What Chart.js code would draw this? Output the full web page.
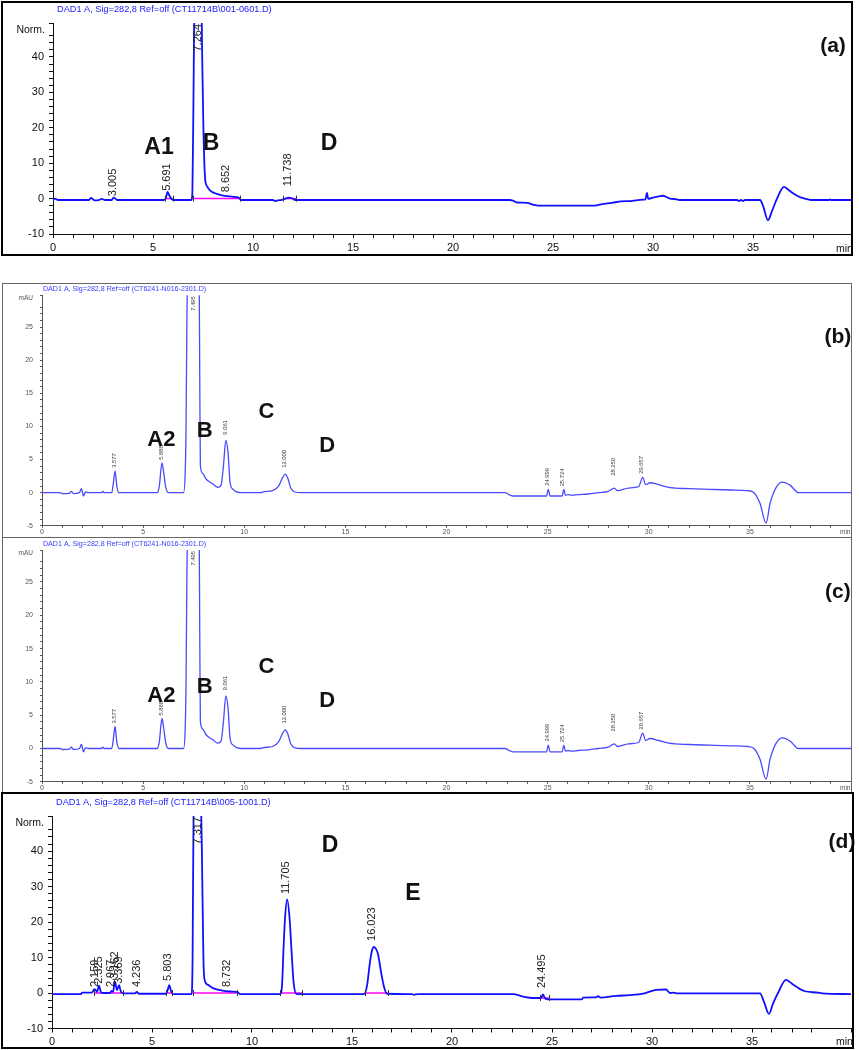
<!DOCTYPE html>
<html>
<head>
<meta charset="utf-8">
<script src="https://cdn.jsdelivr.net/npm/chart.js@4/dist/chart.umd.min.js"></script>
<style>
  body { margin: 0; background: #fff; }
  #page { position: relative; width: 859px; height: 1050px; overflow: hidden; }
  canvas { position: absolute; left: 0; }
  .frame { position: absolute; box-sizing: border-box; pointer-events: none; }
</style>
</head>
<body>
<div id="page">
  <canvas id="chartA" width="859" height="258" style="top:0px"></canvas>
  <canvas id="chartB" width="859" height="253" style="top:284px"></canvas>
  <canvas id="chartC" width="859" height="256" style="top:537px"></canvas>
  <canvas id="chartD" width="859" height="257" style="top:793px"></canvas>
  <div class="frame" style="left:1px;top:1px;width:852px;height:255px;border:2px solid #000"></div>
  <div class="frame" style="left:2px;top:283px;width:850px;height:511px;border:1px solid #666"></div>
  <div class="frame" style="left:2px;top:537px;width:850px;height:1px;background:#666"></div>
  <div class="frame" style="left:1px;top:792px;width:853px;height:257px;border:2px solid #000"></div>
</div>
<script>
// trace (a): [min, Norm.]
const traceA = [[0,-0.4],[0.1,0],[0.25,-0.4],[1.8,-0.4],[1.9,0.2],[2.0,-0.2],[2.1,-0.5],[2.3,-0.4],[2.45,-0.1],[2.6,-0.4],
  [2.95,-0.4],[3.02,0.3],[3.12,0],[3.2,-0.4],[5.55,-0.4],[5.65,0.3],[5.73,1.9],[5.82,0.8],[5.95,-0.2],[6.05,-0.4],
  [6.92,-0.4],[6.97,2],[7.02,26],[7.07,52],[7.26,56],[7.43,52],[7.46,40],[7.52,20],[7.6,6],[7.7,3.5],[7.85,2.3],
  [8.1,1.5],[8.4,1.0],[9.0,0.5],[9.3,0.2],[9.4,-0.4],[11.0,-0.4],[11.1,-0.7],[11.25,-0.5],[11.4,-0.4],[11.6,-0.1],
  [11.77,0.3],[11.95,0.1],[12.1,-0.4],[22.85,-0.4],[23.0,-0.6],[23.2,-1.1],[23.7,-1.2],[24.0,-1.7],[24.25,-2.0],
  [27.1,-2.0],[27.4,-1.6],[27.95,-1.2],[28.4,-0.8],[28.85,-0.7],[29.5,-0.3],[29.62,-0.2],[29.7,1.6],[29.76,-0.1],
  [30.0,0.3],[30.35,0.7],[30.5,0.8],[30.85,0.0],[31.2,-0.2],[31.3,-0.4],[34.2,-0.4],[34.3,-0.7],[34.4,-0.4],
  [34.5,-0.7],[34.6,-0.4],[35.35,-0.4],[35.5,-2.0],[35.75,-6.1],[35.95,-3.5],[36.2,0.0],[36.55,3.3],[36.75,2.6],
  [37.0,1.5],[37.35,0.4],[37.75,-0.2],[37.9,-0.4],[38.8,-0.4],[38.85,-0.2],[38.9,-0.4],[39.9,-0.4]];

// trace (b) and (c): [min, mAU]
const traceB = [[0,0],[0.9,0],[1.0,-0.15],[1.35,-0.1],[1.45,0.2],[1.55,-0.15],[1.85,0],[1.95,0.6],[2.05,-0.5],[2.15,0.1],
  [2.3,0],[2.95,0],[3.0,0.2],[3.08,0],[3.45,0],[3.53,1.5],[3.61,3.3],[3.7,1.0],[3.8,0],[5.7,0],[5.8,1.0],[5.93,4.5],
  [6.02,3.0],[6.12,0.8],[6.25,0],[7.0,0],[7.08,3],[7.12,9.3],[7.16,24.5],[7.2,33],[7.5,36],[7.77,33],[7.8,17.4],
  [7.83,4.1],[7.95,2.9],[8.1,2.1],[8.45,1.3],[8.7,0.8],[8.85,1.1],[8.97,4],[9.09,7.9],[9.2,6],[9.3,1.5],[9.45,0.5],
  [9.8,0],[10.8,0],[11.0,0.15],[11.4,0.3],[11.7,1.0],[11.9,2.3],[12.03,2.8],[12.15,2.2],[12.3,0.7],[12.5,0.1],
  [12.8,0],[22.9,0],[23.1,-0.3],[23.3,-0.5],[24.95,-0.5],[25.03,0.5],[25.12,-0.5],[25.72,-0.5],[25.8,0.5],
  [25.88,-0.4],[26.0,-0.3],[26.2,-0.4],[26.5,-0.3],[27.0,-0.2],[27.5,0],[28.0,0.2],[28.3,0.7],[28.45,0.3],[29.0,0.7],
  [29.5,0.9],[29.7,2.3],[29.85,1.2],[30.05,1.5],[30.5,1.2],[31.0,0.8],[32.0,0.6],[33.0,0.5],[34.1,0.4],[34.9,0.3],
  [35.2,0],[35.5,-1.6],[35.8,-4.6],[36.0,-1.6],[36.3,0.8],[36.6,1.6],[37.0,1.1],[37.4,0],[40,0]];

// trace (d): [min, Norm.]
const traceD = [[0,-0.3],[1.45,-0.3],[1.5,0.1],[2.0,0.1],[2.1,1.0],[2.16,1.0],[2.25,0.3],[2.35,2.1],[2.45,0.2],[2.6,0],
  [2.9,0],[2.97,0.6],[3.05,0.3],[3.15,3.2],[3.25,0.8],[3.35,2.2],[3.45,0.3],[3.6,-0.1],[4.15,-0.1],[4.24,0.3],
  [4.35,-0.2],[5.7,-0.2],[5.78,0.8],[5.86,2.2],[5.95,0.6],[6.05,-0.3],[6.98,-0.3],[7.03,10],[7.08,52],[7.3,56],
  [7.45,52],[7.5,38],[7.57,10],[7.62,4],[7.8,2.3],[8.05,1.4],[8.5,0.7],[9.0,0.4],[9.3,0.2],[9.4,-0.3],[11.4,-0.3],
  [11.5,2],[11.57,11.6],[11.65,21],[11.76,26.4],[11.88,21],[11.98,11.6],[12.08,3],[12.23,-0.3],[15.6,-0.3],
  [15.75,2],[15.9,8.8],[16.0,12],[16.1,13],[16.2,12.4],[16.3,11],[16.45,6],[16.6,1.8],[16.75,-0.2],[18.0,-0.3],
  [18.1,-0.5],[18.3,-0.3],[23.05,-0.3],[23.55,-1.0],[24.05,-1.4],[24.45,-1.4],[24.55,-0.4],[24.65,-1.5],[24.8,-1.8],
  [26.5,-1.8],[26.55,-1.3],[27.2,-1.2],[27.3,-0.9],[27.45,-1.3],[28.2,-0.8],[28.9,-0.6],[29.55,-0.2],[30.2,0.9],
  [30.7,1.0],[30.9,0.0],[31.05,0.1],[31.3,-0.1],[35.4,-0.1],[35.6,-2.5],[35.85,-5.9],[36.05,-3],[36.3,0],[36.7,3.7],
  [37.05,2.4],[37.4,1.1],[37.65,0.5],[38.3,0.1],[38.5,-0.1],[39.95,-0.3]];

// retention time labels (level = where the label starts, null = off scale)
const peakLabelA = ['3.005', '5.691', '7.264', '8.652', '11.738'];
const peakLevelA = [0.4, 1.9, null, 1.5, 3.2];
const peakLabelB = ['3.577', '5.888', '7.495', '9.061', '12.000', '24.999', '25.724', '28.250', '29.657'];
const peakLevelB = [3.6, 4.8, null, 8.6, 3.6, 0.9, 0.8, 2.4, 2.7];
const peakLabelD = ['2.159', '2.325', '2.967', '3.162', '3.369', '4.236', '5.803', '7.317', '8.732', '11.705', '16.023', '24.495'];
const peakLevelD = [1.4, 2.3, 1.4, 3.7, 2.3, 1.4, 3.1, null, 1.4, 27.6, 14.4, 1.1];

// integration baselines
const intStartA = [5.62, 7.0, 11.5];
const intEndA = [5.98, 9.35, 12.15];
const intLevelA = [0, 0, 0];
const intStartD = [2.1, 5.7, 7.03, 11.4, 15.65, 24.4];
const intEndD = [3.55, 6.0, 9.25, 12.5, 16.8, 24.85];
const intLevelD = [0, 0, 0, 0, 0, -1.4];

// compound letters
const letterA = ['A1', 'B', 'D'];
const letterAx = [5.3, 7.9, 13.8];
const letterAy = [14.5, 15.6, 15.6];
const letterB = ['A2', 'B', 'C', 'D'];
const letterBx = [5.9, 8.05, 11.1, 14.1];
const letterBy = [7.9, 9.3, 12.2, 7.1];
const letterD = ['D', 'E'];
const letterDx = [13.9, 18.05];
const letterDy = [41.4, 27.9];

const hplcText = {
  id: 'hplcText',
  afterDatasetsDraw(chart, args, o) {
    const { ctx, chartArea: ca, scales: { x, y } } = chart;
    ctx.save();
    // baseline tick marks
    ctx.strokeStyle = '#333';
    ctx.lineWidth = 1;
    (o.intStart || []).forEach((s, i) => {
      [s, o.intEnd[i]].forEach(t => {
        const px = Math.round(x.getPixelForValue(t)) + 0.5;
        const py = y.getPixelForValue(o.intLevel[i]);
        ctx.beginPath(); ctx.moveTo(px, py - 3); ctx.lineTo(px, py + 3); ctx.stroke();
      });
    });
    // retention times
    ctx.font = o.peakFont;
    ctx.fillStyle = o.peakColor;
    ctx.textBaseline = 'middle';
    o.peakLabels.forEach((lab, i) => {
      ctx.save();
      const px = x.getPixelForValue(parseFloat(lab));
      if (o.peakLevels[i] === null) {
        ctx.translate(px, ca.top + 1);
        ctx.rotate(-Math.PI / 2);
        ctx.textAlign = 'right';
      } else {
        ctx.translate(px, y.getPixelForValue(o.peakLevels[i]) - 1);
        ctx.rotate(-Math.PI / 2);
        ctx.textAlign = 'left';
      }
      ctx.fillText(lab, 0, 0);
      ctx.restore();
    });
    // letters
    ctx.fillStyle = '#111';
    ctx.textAlign = 'center';
    ctx.font = o.letterFont;
    o.letters.forEach((t, i) => {
      ctx.fillText(t, x.getPixelForValue(o.letterX[i]), y.getPixelForValue(o.letterY[i]));
    });
    ctx.font = o.tagFont;
    ctx.fillText(o.tag, x.getPixelForValue(o.tagX), y.getPixelForValue(o.tagY));
    // header texts
    ctx.textAlign = 'left';
    ctx.font = o.titleFont;
    ctx.fillStyle = o.titleColor;
    ctx.fillText(o.title, ca.left + o.titleDx, ca.top - o.titleDy);
    ctx.font = o.unitFont;
    ctx.fillStyle = o.axisColor;
    ctx.textAlign = 'right';
    ctx.fillText(o.unit, ca.left - o.unitDx, ca.top + o.unitDy);
    ctx.textAlign = 'left';
    ctx.fillText('min', ca.right - o.minDx, ca.bottom + o.minDy);
    ctx.restore();
  }
};

function makeChart(id, cfg) {
  const datasets = [{
    data: cfg.trace.map(p => ({ x: p[0], y: p[1] })),
    borderColor: cfg.lineColor,
    borderWidth: cfg.lineWidth,
    pointRadius: 0,
    cubicInterpolationMode: 'monotone',
    order: 1
  }];
  (cfg.intStart || []).forEach((s, i) => {
    datasets.push({
      data: [{ x: s, y: cfg.intLevel[i] }, { x: cfg.intEnd[i], y: cfg.intLevel[i] }],
      borderColor: '#ff00ff',
      borderWidth: 1.5,
      pointRadius: 0,
      order: 2
    });
  });
  const five = v => Math.abs(v - Math.round(v / 5) * 5) < 1e-6 && v < 39.5;
  const ten = v => Math.abs(v - Math.round(v / 10) * 10) < 1e-6;
  return new Chart(document.getElementById(id), {
    type: 'line',
    data: { datasets },
    options: {
      responsive: false,
      animation: false,
      devicePixelRatio: 1,
      layout: { padding: cfg.padding },
      plugins: {
        legend: { display: false },
        tooltip: { enabled: false },
        hplcText: cfg.text
      },
      scales: {
        x: {
          type: 'linear',
          min: 0,
          max: cfg.xMax,
          afterFit: s => { s.height = cfg.xHeight; },
          ticks: {
            stepSize: 1, autoSkip: false, maxRotation: 0, padding: cfg.xPad,
            font: { family: 'Arial', size: cfg.tickSize }, color: cfg.text.axisColor,
            callback: v => (five(v) ? String(Math.round(v)) : '')
          },
          grid: { drawOnChartArea: false, tickLength: cfg.tickLen, tickColor: cfg.text.axisColor },
          border: { color: cfg.text.axisColor, width: 1 }
        },
        y: {
          min: cfg.yMin,
          max: cfg.yMax,
          afterFit: s => { s.width = cfg.yWidth; },
          ticks: {
            stepSize: cfg.yStep, autoSkip: false, padding: cfg.yPad,
            font: { family: 'Arial', size: cfg.tickSize }, color: cfg.text.axisColor,
            callback: v => ((cfg.yLabelEvery === 10 ? ten(v) : five(v)) ? String(Math.round(v)) : '')
          },
          grid: { drawOnChartArea: false, tickLength: cfg.tickLen, tickColor: cfg.text.axisColor },
          border: { color: cfg.text.axisColor, width: 1 }
        }
      }
    },
    plugins: [hplcText]
  });
}

const bigText = {
  peakFont: '11px Arial', peakColor: '#222', letterFont: 'bold 23px Arial', tagFont: 'bold 21px Arial',
  titleFont: '9.2px Arial', titleColor: '#1a1aff', unitFont: '10.5px Arial', axisColor: '#111',
  titleDx: 4, titleDy: 14, unitDx: 8, unitDy: 7, minDx: 15, minDy: 15
};
const smallText = {
  peakFont: '5.8px Arial', peakColor: '#333', letterFont: 'bold 22px Arial', tagFont: 'bold 21px Arial',
  titleFont: '7.1px Arial', titleColor: '#3a3aff', unitFont: '6.5px Arial', axisColor: '#555',
  titleDx: 1, titleDy: 6, unitDx: 9, unitDy: 3, minDx: 11, minDy: 6
};

makeChart('chartA', {
  trace: traceA, lineColor: '#1010ff', lineWidth: 1.8,
  intStart: intStartA, intEnd: intEndA, intLevel: intLevelA,
  padding: { left: 0, right: 8, top: 23, bottom: 2 }, xHeight: 22, yWidth: 53,
  xMax: 39.9, yMin: -10, yMax: 49.6, yStep: 2, yLabelEvery: 10,
  tickSize: 11, tickLen: 4, xPad: 3, yPad: 5,
  text: Object.assign({}, bigText, {
    peakLabels: peakLabelA, peakLevels: peakLevelA,
    intStart: intStartA, intEnd: intEndA, intLevel: intLevelA,
    letters: letterA, letterX: letterAx, letterY: letterAy, tag: '(a)', tagX: 39.0, tagY: 43,
    title: 'DAD1 A, Sig=282,8 Ref=off (CT11714B\\001-0601.D)', unit: 'Norm.'
  })
});

makeChart('chartB', {
  trace: traceB, lineColor: '#4a4aff', lineWidth: 1.3,
  padding: { left: 0, right: 8, top: 11, bottom: 0.5 }, xHeight: 9, yWidth: 42,
  xMax: 40, yMin: -5, yMax: 29.8, yStep: 1, yLabelEvery: 5,
  tickSize: 7, tickLen: 2, xPad: 0, yPad: 7,
  text: Object.assign({}, smallText, {
    peakLabels: peakLabelB, peakLevels: peakLevelB,
    letters: letterB, letterX: letterBx, letterY: letterBy, tag: '(b)', tagX: 39.35, tagY: 23.4,
    title: 'DAD1 A, Sig=282,8 Ref=off (CT6241-N016-2301.D)', unit: 'mAU'
  })
});

makeChart('chartC', {
  trace: traceB, lineColor: '#4a4aff', lineWidth: 1.3,
  padding: { left: 0, right: 8, top: 13, bottom: 0 }, xHeight: 10, yWidth: 42,
  xMax: 40, yMin: -5, yMax: 29.8, yStep: 1, yLabelEvery: 5,
  tickSize: 7, tickLen: 2, xPad: 0, yPad: 7,
  text: Object.assign({}, smallText, {
    peakLabels: peakLabelB, peakLevels: peakLevelB,
    letters: letterB, letterX: letterBx, letterY: letterBy, tag: '(c)', tagX: 39.35, tagY: 23.4,
    title: 'DAD1 A, Sig=282,8 Ref=off (CT6241-N016-2301.D)', unit: 'mAU'
  })
});

makeChart('chartD', {
  trace: traceD, lineColor: '#1010ff', lineWidth: 1.8,
  intStart: intStartD, intEnd: intEndD, intLevel: intLevelD,
  padding: { left: 0, right: 8, top: 23, bottom: 0 }, xHeight: 21.5, yWidth: 52,
  xMax: 39.95, yMin: -10, yMax: 49.9, yStep: 2, yLabelEvery: 10,
  tickSize: 11, tickLen: 4, xPad: 3, yPad: 5,
  text: Object.assign({}, bigText, {
    peakLabels: peakLabelD, peakLevels: peakLevelD,
    intStart: intStartD, intEnd: intEndD, intLevel: intLevelD,
    letters: letterD, letterX: letterDx, letterY: letterDy, tag: '(d)', tagX: 39.5, tagY: 42.5,
    title: 'DAD1 A, Sig=282,8 Ref=off (CT11714B\\005-1001.D)', unit: 'Norm.', minDy: 14
  })
});
</script>
</body>
</html>
